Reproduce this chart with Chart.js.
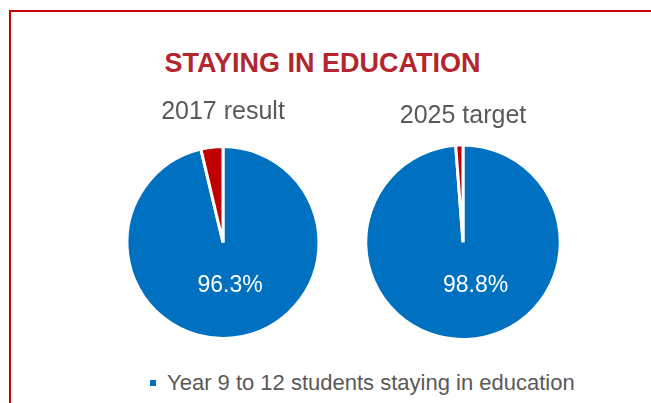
<!DOCTYPE html>
<html>
<head>
<meta charset="utf-8">
<script src="https://cdn.jsdelivr.net/npm/chart.js@4"></script>
<style>
    html, body { margin: 0; padding: 0; background: #fff; overflow: hidden; }
    #page { position: relative; width: 651px; height: 403px; overflow: hidden; font-family: "Liberation Sans", Arial, sans-serif; }
    #frame { position: absolute; left: 9px; top: 10px; width: 700px; height: 500px; border: 2px solid #C80000; }
    #main-title { position: absolute; left: 0; width: 645px; top: 47px; text-align: center; font-size: 27px; font-weight: bold; color: #B3262E; line-height: 32px; }
    .pie { position: absolute; width: 230px; }
    #pie-2017 { left: 108px; top: 97px; height: 243px; }
    #pie-2025 { left: 348px; top: 101px; height: 240px; }
    #legend { position: absolute; left: 150px; top: 370px; height: 26px; line-height: 26px; font-size: 22px; color: #595959; white-space: nowrap; }
    #legend .swatch { display: inline-block; width: 6px; height: 6px; background: #0070C0; margin-right: 11px; vertical-align: middle; position: relative; top: -1px; }
</style>
</head>
<body>
<div id="page">
    <div id="frame"></div>
    <div id="main-title"></div>
    <div class="pie" id="pie-2017"><canvas id="chart-2017"></canvas></div>
    <div class="pie" id="pie-2025"><canvas id="chart-2025"></canvas></div>
    <div id="legend"><span class="swatch"></span><span id="legend-text"></span></div>
</div>
<script>
    const MAIN_TITLE = 'STAYING IN EDUCATION';
    const SERIES_LABELS = ['Year 9 to 12 students staying in education', 'Not staying in education'];
    const VALUES_2017 = [96.3, 3.7];
    const VALUES_2025 = [98.8, 1.2];
    const PIE_TITLES = ['2017 result', '2025 target'];
    const SLICE_COLORS = ['#0070C0', '#C00000'];

    const FONT = '"Liberation Sans", Arial, sans-serif';

    document.getElementById('main-title').textContent = MAIN_TITLE;
    document.getElementById('legend-text').textContent = SERIES_LABELS[0];

    // Draws the percentage label on the first (blue) slice only
    const sliceLabelPlugin = {
        id: 'sliceLabel',
        afterDatasetsDraw(chart, args, opts) {
            const arc = chart.getDatasetMeta(0).data[0];
            const value = chart.data.datasets[0].data[0];
            const mid = (arc.startAngle + arc.endAngle) / 2;
            const r = arc.outerRadius * opts.radiusRatio;
            const x = arc.x + Math.cos(mid) * r + (opts.xShift || 0);
            const y = arc.y + Math.sin(mid) * r;
            const ctx = chart.ctx;
            ctx.save();
            ctx.fillStyle = '#ffffff';
            ctx.font = '23px ' + FONT;
            ctx.textAlign = 'center';
            ctx.textBaseline = 'middle';
            ctx.fillText(value.toFixed(1) + '%', x, y);
            ctx.restore();
        }
    };

    function makePie(canvasId, title, values, titlePadBottom, xShift) {
        return new Chart(document.getElementById(canvasId), {
            type: 'pie',
            data: {
                labels: SERIES_LABELS,
                datasets: [{
                    data: values,
                    backgroundColor: SLICE_COLORS,
                    borderColor: '#ffffff',
                    borderWidth: 3
                }]
            },
            options: {
                responsive: true,
                maintainAspectRatio: false,
                animation: false,
                events: [],
                layout: { padding: 0 },
                plugins: {
                    legend: { display: false },
                    tooltip: { enabled: false },
                    title: {
                        display: true,
                        text: title,
                        color: '#595959',
                        font: { family: FONT, size: 25, weight: 'normal', lineHeight: 1.2 },
                        padding: { top: 0, bottom: titlePadBottom }
                    },
                    sliceLabel: { radiusRatio: 0.45, xShift: xShift }
                }
            },
            plugins: [sliceLabelPlugin]
        });
    }

    makePie('chart-2017', PIE_TITLES[0], VALUES_2017, 18, 2);
    makePie('chart-2025', PIE_TITLES[1], VALUES_2025, 12.5, 11);
</script>
</body>
</html>
